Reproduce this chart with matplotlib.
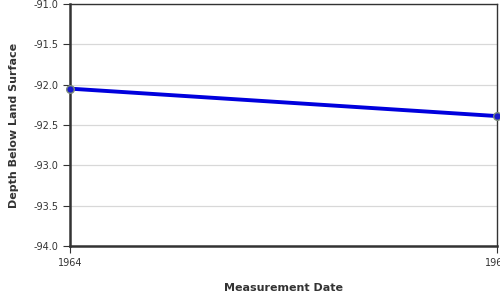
import matplotlib
matplotlib.use("Agg")
import matplotlib.pyplot as plt

# measurement data
years = [1964, 1965]
depth = [-92.05, -92.39]
y_ticks = [-91.0, -91.5, -92.0, -92.5, -93.0, -93.5, -94.0]
x_labels = ["1964", "1965"]

fig = plt.figure(figsize=(5, 3), dpi=100)
ax = fig.add_axes([0.14, 0.18, 0.854, 0.807])

ax.plot(years, depth, color="#0000dd", lw=2.8, zorder=3,
        marker="o", markersize=5.5, markerfacecolor="#1a1acc",
        markeredgecolor="#7a8a7a", markeredgewidth=1.0, clip_on=False)

ax.set_xlim(years[0], years[-1])
ax.set_ylim(-94.0, -91.0)
ax.set_yticks(y_ticks)
ax.set_yticklabels([f"{v:.1f}" for v in y_ticks])
ax.set_xticks(years)
ax.set_xticklabels(x_labels)

ax.grid(axis="y", color="#d8d8d8", lw=0.9)
ax.set_axisbelow(True)

for s in ["left", "bottom"]:
    ax.spines[s].set_linewidth(1.8)
    ax.spines[s].set_color("#333333")
for s in ["top", "right"]:
    ax.spines[s].set_linewidth(1.0)
    ax.spines[s].set_color("#333333")

ax.tick_params(axis="both", labelsize=7, colors="#333333", length=5, width=0.8)

ax.set_xlabel("Measurement Date", fontsize=8, fontweight="bold",
              color="#333333", labelpad=11)
ax.set_ylabel("Depth Below Land Surface", fontsize=8, fontweight="bold",
              color="#333333", labelpad=10)

fig.savefig("out.png", dpi=100)
